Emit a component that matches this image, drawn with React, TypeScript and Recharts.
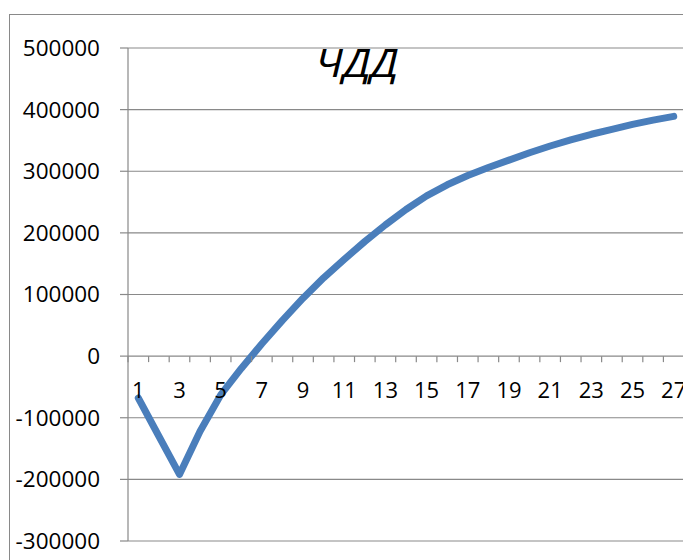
import { CartesianGrid, Line, LineChart, XAxis, YAxis } from "recharts";

const years = [
  1, 2, 3, 4, 5, 6, 7, 8, 9, 10, 11, 12, 13, 14, 15, 16, 17, 18, 19, 20, 21, 22, 23, 24, 25, 26, 27,
];
const npv = [
  -68000, -130000, -192000, -122000, -63000, -20000, 20000, 58000, 94000, 127000, 157000, 186000,
  213000, 238000, 260000, 278000, 293000, 306000, 318000, 330000, 341000, 351000, 360000, 368000,
  376000, 383000, 389000,
];
const yTicks = [-300000, -200000, -100000, 0, 100000, 200000, 300000, 400000, 500000];
const title = "ЧДД";

const data = years.map((year, i) => ({ year, npv: npv[i] }));

const W = 683;
const H = 552;
const MARGIN = { top: 40, right: 7, bottom: 0, left: 0 };
const X_AXIS_H = 19;
const Y_AXIS_W = 120;
const PLOT_W = W - MARGIN.left - MARGIN.right - Y_AXIS_W;
const PLOT_H = H - MARGIN.top - MARGIN.bottom - X_AXIS_H;
const Y_MIN = yTicks[0];
const Y_MAX = yTicks[yTicks.length - 1];
// x axis crosses at zero, like Excel
const ZERO_Y = MARGIN.top + (PLOT_H * Y_MAX) / (Y_MAX - Y_MIN);
const BAND = PLOT_W / years.length;

const GRAY = "#898989";
const FONT = "'Open Sans', sans-serif";

function YearTick({ x, payload, index }: any) {
  const last = index === years.length - 1;
  return (
    <g>
      <line x1={x - BAND / 2} x2={x - BAND / 2} y1={ZERO_Y} y2={ZERO_Y + 6} stroke={GRAY} strokeWidth={1.2} />
      {last && (
        <line x1={x + BAND / 2} x2={x + BAND / 2} y1={ZERO_Y} y2={ZERO_Y + 6} stroke={GRAY} strokeWidth={1.2} />
      )}
      {payload.value % 2 === 1 && (
        <text
          x={x}
          y={ZERO_Y + 34}
          dy="0.36em"
          textAnchor="middle"
          fill="#000"
          fontSize={22}
          fontFamily={FONT}
        >
          {payload.value}
        </text>
      )}
    </g>
  );
}

export default function App() {
  return (
    <div style={{ position: "relative", width: W, height: H, overflow: "hidden", background: "#fff" }}>
      <div
        style={{
          position: "absolute",
          left: 1,
          top: 6,
          width: 760,
          height: 640,
          border: `1px solid ${GRAY}`,
        }}
      />
      <div style={{ position: "absolute", left: 0, top: 0 }}>
        <LineChart width={W} height={H} data={data} margin={MARGIN}>
          <CartesianGrid vertical={false} stroke={GRAY} strokeWidth={1.2} />
          <XAxis
            dataKey="year"
            interval={0}
            height={X_AXIS_H}
            padding={{ left: BAND / 2, right: BAND / 2 }}
            axisLine={false}
            tickLine={false}
            tick={<YearTick />}
          />
          <YAxis
            type="number"
            domain={[Y_MIN, Y_MAX]}
            ticks={yTicks}
            width={Y_AXIS_W}
            tickSize={8}
            tickMargin={20}
            axisLine={{ stroke: GRAY, strokeWidth: 1.2 }}
            tickLine={{ stroke: GRAY, strokeWidth: 1.2 }}
            tick={{ fill: "#000", fontSize: 22.5, fontFamily: FONT }}
          />
          <Line
            type="linear"
            dataKey="npv"
            stroke="#4a7ebb"
            strokeWidth={7}
            strokeLinecap="round"
            strokeLinejoin="round"
            dot={false}
            isAnimationActive={false}
          />
        </LineChart>
      </div>
      <svg style={{ position: "absolute", left: 0, top: 0 }} width={W} height={H}>
        <text
          x={348.5}
          y={69}
          textAnchor="middle"
          fontSize={38}
          fontStyle="italic"
          fontFamily={FONT}
          textLength={83}
          lengthAdjust="spacingAndGlyphs"
          fill="#000"
        >
          {title}
        </text>
      </svg>
    </div>
  );
}
